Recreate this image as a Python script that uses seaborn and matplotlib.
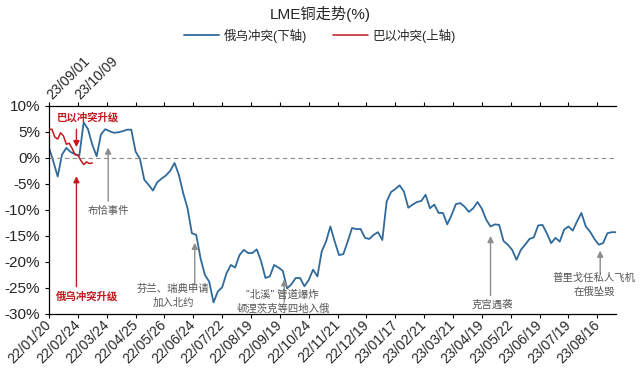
import numpy as np
import pandas as pd
import matplotlib
matplotlib.use('Agg')
import matplotlib.pyplot as plt
from matplotlib.lines import Line2D
import seaborn as sns

# 俄乌冲突(下轴): 22/01/20 起, 每3个交易日一个点, 单位%
ru_ua = [1.9, -0.7, -3.6, 0.6, 1.9, 1.1, 0.7, 0.4, 6.8, 5.5,
         2.5, 0.3, 4.5, 5.5, 5.1, 4.8, 4.9, 5.1, 5.4, 5.4,
         1.2, -0.2, -4.2, -5.2, -6.3, -4.7, -4.0, -3.4, -2.5, -1.0,
         -3.3, -6.8, -9.7, -14.5, -14.8, -19.3, -22.5, -23.8, -27.8, -25.7,
         -24.9, -22.2, -20.6, -21.1, -18.7, -17.7, -18.3, -18.3, -17.6, -19.9,
         -23.1, -22.8, -20.6, -21.1, -21.7, -25.1, -24.3, -23.1, -23.1, -24.7,
         -23.5, -21.5, -22.8, -18.0, -16.1, -13.2, -16.1, -18.7, -18.5, -16.1,
         -13.5, -13.7, -13.7, -15.4, -15.6, -14.8, -14.3, -15.8, -8.4, -6.6,
         -6.0, -5.3, -6.5, -9.6, -9.0, -8.5, -8.3, -7.1, -9.7, -9.0,
         -10.6, -10.6, -12.8, -11.0, -8.9, -8.7, -9.4, -10.4, -9.7, -8.5,
         -9.8, -11.9, -13.2, -12.8, -12.9, -16.0, -16.7, -17.7, -19.6, -17.7,
         -16.7, -15.6, -15.3, -13.0, -12.9, -14.5, -16.4, -15.4, -16.1, -13.8,
         -13.2, -14.0, -12.2, -10.6, -13.2, -14.2, -15.6, -16.7, -16.4, -14.5,
         -14.3, -14.3]
ru_step = 3

# 巴以冲突(上轴): 23/09/01 起, 每2个交易日一个点
pal_isr = [5.4, 5.5, 4.0, 3.6, 4.8, 4.2, 2.6, 2.8, 1.8, 0.6,
           0.5, -0.5, -1.3, -0.8, -1.1, -1.0]
pal_step = 2

bottom_labels = ['22/01/20', '22/02/24', '22/03/24', '22/04/25', '22/05/26',
                 '22/06/24', '22/07/22', '22/08/19', '22/09/19', '22/10/24',
                 '22/11/21', '22/12/19', '23/01/17', '23/02/21', '23/03/21',
                 '23/04/19', '23/05/22', '23/06/19', '23/07/19', '23/08/16']
top_labels = ['23/09/01', '23/10/09']
tick_gap = 20

# 事件标注: (文字, 文字x, 文字y, 箭头x, 箭头起点y, 箭头终点y)
events = [
    ('布恰事件', 41, -10.3, 41, -8.9, 2.5),
    ('芬兰、瑞典申请\n加入北约', 86, -26.5, 101, -25.0, -15.8),
    ('"北溪" 管道爆炸\n顿涅茨克等四地入俄', 162, -27.7, 163, -28.3, -22.8),
    ('克宫遇袭', 307, -28.3, 306, -27.0, -14.5),
    ('普里戈任私人飞机\n在俄坠毁', 378, -24.5, 382, -22.8, -17.3),
]

blue = '#2f6a9b'
red = '#c0191e'
grey = '#8c8c8c'

sns.set_style('ticks')
plt.rcParams['font.family'] = ['Liberation Sans', 'Noto Sans CJK SC']
plt.rcParams['axes.unicode_minus'] = False

df_ru = pd.DataFrame({'day': np.arange(len(ru_ua)) * ru_step, 'pct': ru_ua})
df_pi = pd.DataFrame({'day': np.arange(len(pal_isr)) * pal_step, 'pct': pal_isr})

fig = plt.figure(figsize=(6.4, 3.75), dpi=100)
ax = fig.add_axes([0.0766, 0.163, 0.886, 0.555])
ax2 = ax.twiny()

sns.lineplot(data=df_ru, x='day', y='pct', ax=ax, color=blue, lw=1.3)
sns.lineplot(data=df_pi, x='day', y='pct', ax=ax2, color=red, lw=1.1)

xmax = df_ru['day'].max()
for a in (ax, ax2):
    a.set_xlim(0, xmax)
    a.set_ylim(-30, 10)
    a.set_xlabel('')
    a.set_ylabel('')
    a.spines['right'].set_visible(False)

ax.axhline(0, color=grey, lw=0.8, ls=(0, (4, 3)))

ticks = np.arange(len(bottom_labels)) * tick_gap
ax.set_xticks(ticks)
ax.set_xticklabels(bottom_labels, rotation=45, ha='right', va='center',
                   rotation_mode='anchor', fontsize=10)
ax.spines['top'].set_visible(False)
ax.set_yticks(np.arange(-30, 11, 5))
ax.set_yticklabels([f'{v}%' for v in range(-30, 11, 5)], fontsize=11)
ax.tick_params(direction='out', length=3, width=0.8, color='black')

ax2.set_xticks(ticks)
ax2.set_xticklabels(top_labels + [''] * (len(ticks) - len(top_labels)),
                    rotation=45, ha='left', va='center',
                    rotation_mode='anchor', fontsize=10)
ax2.tick_params(direction='out', length=3, width=0.8, color='black')
ax2.spines['bottom'].set_visible(False)
ax2.spines['left'].set_visible(False)
for a in (ax, ax2):
    for s in a.spines.values():
        s.set_color('black')
        s.set_linewidth(0.9)

# 红色标注
ax.text(27, 7.8, '巴以冲突升级', color=red, fontsize=7.5, fontweight='bold',
        ha='center', va='center')
ax.annotate('', xy=(19, 1.5), xytext=(19, 6.0),
            arrowprops=dict(arrowstyle='-|>', color=red, lw=1.0,
                            mutation_scale=9))
ax.text(26, -26.7, '俄乌冲突升级', color=red, fontsize=7.5, fontweight='bold',
        ha='center', va='center')
ax.annotate('', xy=(19, -3.0), xytext=(19, -25.3),
            arrowprops=dict(arrowstyle='-|>', color=red, lw=1.0,
                            mutation_scale=9))

# 灰色事件标注
for txt, tx, ty, axx, y0, y1 in events:
    ax.annotate('', xy=(axx, y1), xytext=(axx, y0),
                arrowprops=dict(arrowstyle='-|>', color=grey, lw=1.0,
                                mutation_scale=9))
    ax.text(tx, ty, txt, color='#555555', fontsize=7.5, ha='center',
            va='center', linespacing=1.5, clip_on=False)

fig.text(0.5, 0.962, 'LME铜走势(%)', ha='center', va='center', fontsize=11)
handles = [Line2D([], [], color=blue, lw=1.3), Line2D([], [], color=red, lw=1.1)]
fig.legend(handles, ['俄乌冲突(下轴)', '巴以冲突(上轴)'], loc='center',
           bbox_to_anchor=(0.5, 0.905), ncol=2, frameon=False, fontsize=9,
           handlelength=2.8, columnspacing=2.0, handletextpad=0.4)

fig.savefig('out.png', dpi=100)
